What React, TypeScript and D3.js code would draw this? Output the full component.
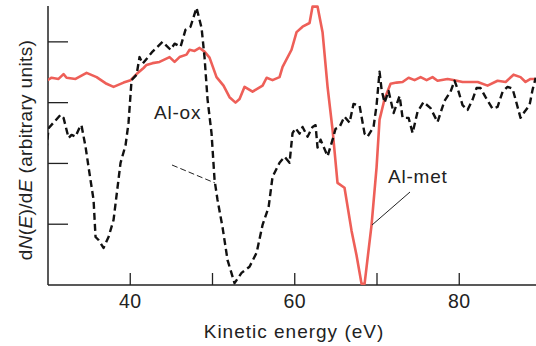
import { useEffect, useRef } from 'react';
import * as d3 from 'd3';

// Al-ox (dashed black) trace
const oxEnergy = [29.8, 30.07, 30.67, 31.52, 31.89, 32.5, 32.86, 33.35, 33.96, 34.08, 34.57, 34.93, 35.54, 35.78, 36.15, 36.75, 37.36, 37.97, 38.82, 39.43, 39.79, 40.16, 40.77, 41.13, 41.5, 42.71, 43.93, 44.9, 45.39, 46.12, 46.72, 47.33, 48.06, 48.67, 49.03, 49.4, 49.88, 50.25, 50.61, 51.22, 51.83, 52.68, 53.53, 54.5, 55.36, 56.09, 56.82, 57.3, 58.15, 58.76, 59.37, 59.73, 60.1, 60.58, 60.95, 61.56, 62.16, 62.53, 62.77, 63.14, 63.99, 64.6, 64.96, 65.45, 66.05, 66.66, 67.15, 67.88, 68.49, 68.85, 69.58, 69.95, 70.31, 70.56, 70.92, 71.41, 72.02, 72.75, 73.11, 73.84, 74.33, 74.93, 75.66, 76.51, 77.36, 78.21, 78.94, 79.43, 79.92, 80.4, 81.01, 81.62, 82.1, 82.59, 83.2, 84.05, 84.66, 85.27, 85.87, 86.48, 86.85, 87.45, 87.94, 88.55, 88.91, 89.3];
const oxSignal = [2.21, 2.58, 2.67, 2.8, 2.75, 2.42, 2.47, 2.44, 2.63, 2.62, 2.27, 1.94, 1.4, 0.79, 0.74, 0.61, 0.79, 1.07, 2.01, 2.3, 2.67, 3.37, 3.46, 3.75, 3.64, 3.84, 4.0, 3.87, 3.97, 3.92, 4.2, 4.25, 4.56, 4.23, 3.75, 3.05, 2.5, 1.73, 1.4, 0.95, 0.41, 0.03, 0.2, 0.3, 0.53, 0.99, 1.28, 1.78, 2.01, 2.11, 2.01, 2.5, 2.58, 2.49, 2.6, 2.44, 2.6, 2.63, 2.26, 2.39, 2.12, 2.39, 2.57, 2.6, 2.77, 2.67, 2.98, 2.95, 2.49, 2.44, 2.6, 2.96, 3.51, 3.21, 3.0, 3.19, 2.83, 3.11, 2.75, 2.75, 2.5, 2.85, 3.01, 2.91, 2.68, 3.03, 3.18, 3.36, 3.18, 2.96, 2.88, 3.05, 3.24, 3.24, 3.09, 2.9, 2.93, 3.18, 3.26, 3.23, 3.05, 2.75, 2.85, 2.96, 3.21, 3.41];

// Al-met (solid red) trace
const metEnergy = [29.95, 30.43, 31.28, 31.89, 32.26, 33.35, 34.69, 35.91, 37.12, 37.97, 39.19, 40.04, 40.77, 41.62, 41.98, 42.71, 43.56, 44.78, 45.39, 45.99, 46.84, 47.21, 47.82, 48.43, 49.03, 49.64, 50.49, 51.34, 52.07, 52.8, 53.29, 53.9, 54.87, 56.09, 56.58, 57.3, 58.15, 58.52, 59.61, 60.22, 60.95, 61.8, 62.16, 62.77, 63.38, 63.99, 64.6, 65.2, 66.05, 66.91, 67.51, 68.12, 68.49, 69.34, 69.95, 70.31, 70.92, 71.65, 72.38, 73.11, 73.84, 74.57, 75.3, 76.03, 76.75, 77.36, 78.58, 79.43, 80.4, 81.37, 82.25, 83.44, 84.66, 85.64, 86.6, 87.45, 88.06, 88.67, 89.3];
const metSignal = [3.37, 3.41, 3.39, 3.47, 3.41, 3.39, 3.49, 3.42, 3.31, 3.26, 3.33, 3.37, 3.47, 3.57, 3.62, 3.65, 3.67, 3.75, 3.67, 3.75, 3.79, 3.87, 3.85, 3.9, 3.84, 3.74, 3.42, 3.28, 3.09, 3.0, 3.06, 3.26, 3.18, 3.28, 3.41, 3.37, 3.42, 3.59, 3.87, 4.16, 4.25, 4.31, 4.58, 4.58, 4.16, 3.26, 2.55, 1.68, 1.6, 0.89, 0.49, 0.02, 0.02, 0.99, 1.94, 2.72, 3.06, 3.31, 3.33, 3.34, 3.41, 3.37, 3.42, 3.37, 3.42, 3.36, 3.39, 3.37, 3.34, 3.34, 3.34, 3.28, 3.36, 3.34, 3.46, 3.42, 3.34, 3.39, 3.39];

const xTicks = [40, 50, 60, 70, 80, 90];
const xTickLabels = [40, 60, 80];
const yTicks = [1, 2, 3, 4];

const FONT = '"Liberation Sans", Arial, Helvetica, sans-serif';

export default function App() {
  const svgRef = useRef<SVGSVGElement>(null);

  useEffect(() => {
    const width = 536;
    const height = 346;
    const left = 48;
    const bottom = 285;
    const top = 6;

    const svg = d3.select(svgRef.current);
    svg.selectAll('*').remove();
    svg.attr('width', width).attr('height', height);

    const x = d3.scaleLinear().domain([30, 90]).range([left, left + 60 * 8.225]);
    const y = d3.scaleLinear().domain([0, 4.59]).range([bottom, top]);

    svg.append('defs').append('clipPath').attr('id', 'plot')
      .append('rect').attr('x', left).attr('y', 0).attr('width', width - left).attr('height', bottom + 2);

    // axes
    const axisColor = '#222';
    svg.append('line').attr('x1', left).attr('x2', left).attr('y1', top).attr('y2', bottom)
      .attr('stroke', axisColor).attr('stroke-width', 1.5);
    svg.append('line').attr('x1', left).attr('x2', width).attr('y1', bottom).attr('y2', bottom)
      .attr('stroke', axisColor).attr('stroke-width', 1.5);

    svg.selectAll('.ytick').data(yTicks).enter().append('line')
      .attr('x1', left).attr('x2', left + 20)
      .attr('y1', d => y(d)).attr('y2', d => y(d))
      .attr('stroke', axisColor).attr('stroke-width', 1.3);

    svg.selectAll('.xtick').data(xTicks).enter().append('line')
      .attr('x1', d => x(d)).attr('x2', d => x(d))
      .attr('y1', bottom).attr('y2', bottom - 12)
      .attr('stroke', axisColor).attr('stroke-width', 1.3);

    svg.selectAll('.xlabel').data(xTickLabels).enter().append('text')
      .attr('x', d => x(d)).attr('y', 308)
      .attr('text-anchor', 'middle')
      .style('font-family', FONT).style('font-size', '19.5px').style('fill', '#222')
      .style('letter-spacing', '0.5px')
      .text(d => d);

    svg.append('text')
      .attr('x', 294).attr('y', 338)
      .attr('text-anchor', 'middle')
      .style('font-family', FONT).style('font-size', '19px').style('fill', '#222')
      .style('letter-spacing', '1px')
      .text('Kinetic energy (eV)');

    const yLabel = svg.append('text')
      .attr('transform', 'translate(32,150) rotate(-90)')
      .attr('text-anchor', 'middle')
      .style('font-family', FONT).style('font-size', '19px').style('fill', '#222')
      .style('letter-spacing', '0.35px');
    yLabel.append('tspan').text('d');
    yLabel.append('tspan').style('font-style', 'italic').text('N');
    yLabel.append('tspan').text('(');
    yLabel.append('tspan').style('font-style', 'italic').text('E');
    yLabel.append('tspan').text(')/d');
    yLabel.append('tspan').style('font-style', 'italic').text('E');
    yLabel.append('tspan').text(' (arbitrary units)');

    const line = d3.line<[number, number]>()
      .x(d => x(d[0]))
      .y(d => y(d[1]));

    const plot = svg.append('g').attr('clip-path', 'url(#plot)');

    plot.append('path')
      .datum(metEnergy.map((e, i) => [e, metSignal[i]] as [number, number]))
      .attr('d', line)
      .attr('fill', 'none')
      .attr('stroke', '#ee5f58')
      .attr('stroke-width', 2.6)
      .attr('stroke-linejoin', 'round');

    plot.append('path')
      .datum(oxEnergy.map((e, i) => [e, oxSignal[i]] as [number, number]))
      .attr('d', line)
      .attr('fill', 'none')
      .attr('stroke', '#111')
      .attr('stroke-width', 2.4)
      .attr('stroke-dasharray', '7,4')
      .attr('stroke-linejoin', 'round');

    // annotations
    svg.append('text')
      .attr('x', 154).attr('y', 119)
      .style('font-family', FONT).style('font-size', '19px').style('fill', '#222')
      .style('letter-spacing', '0.8px')
      .text('Al-ox');
    svg.append('line')
      .attr('x1', 172).attr('y1', 165).attr('x2', 215).attr('y2', 183)
      .attr('stroke', '#222').attr('stroke-width', 1).attr('stroke-dasharray', '6,3');

    svg.append('text')
      .attr('x', 388).attr('y', 183)
      .style('font-family', FONT).style('font-size', '19px').style('fill', '#222')
      .style('letter-spacing', '0.8px')
      .text('Al-met');
    svg.append('line')
      .attr('x1', 410).attr('y1', 192).attr('x2', 372).attr('y2', 225)
      .attr('stroke', '#222').attr('stroke-width', 1);
  }, []);

  return (
    <div style={{ position: 'absolute', left: 0, top: 0 }}>
      <svg ref={svgRef}></svg>
    </div>
  );
}
